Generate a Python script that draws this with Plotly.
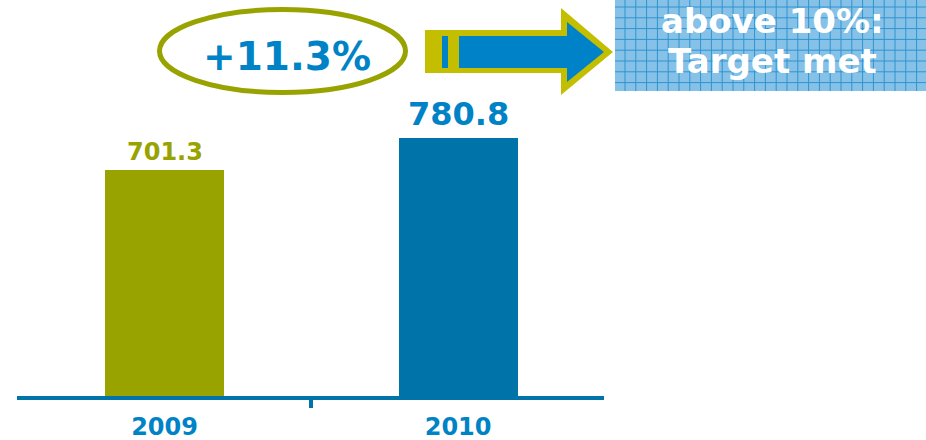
import plotly.graph_objects as go

years = ["2009", "2010"]
values = [701.3, 780.8]
value_labels = ["701.3", "780.8"]
bar_colors = ["#99A300", "#0073A8"]
label_colors = ["#99A300", "#0083C6"]
label_sizes = [24, 32]
growth_label = "+11.3%"
target_lines = ["above 10%:", "Target met"]

W, H = 926, 440
L, R, T, B = 17, 604, 0, 396  # plot area in pixels

def px(x):
    return (x - L) / (R - L)

def py(y):
    return (B - y) / (B - T)

xpos = [0, 1]

fig = go.Figure()
fig.add_trace(go.Bar(
    x=xpos, y=values, width=0.405,
    marker=dict(color=bar_colors, line=dict(width=0)),
    hoverinfo="skip", showlegend=False,
))

annotations = []
yshifts = [18, 24]
for xv, v, t, c, s, ys in zip(xpos, values, value_labels, label_colors, label_sizes, yshifts):
    annotations.append(dict(
        x=xv, y=v, xref="x", yref="y", text=t, showarrow=False,
        yanchor="middle", xanchor="center", yshift=ys,
        font=dict(family="DejaVu Sans", size=s, color=c, weight="bold"),
    ))

shapes = []
# ellipse around growth
shapes.append(dict(type="circle", xref="paper", yref="paper",
                   x0=px(159.5), x1=px(405.5), y0=py(92.5), y1=py(9.5),
                   line=dict(color="#99A300", width=5), layer="above"))
annotations.append(dict(x=px(287), y=py(56), xref="paper", yref="paper",
                        text=growth_label, showarrow=False, xanchor="center", yanchor="middle",
                        font=dict(family="DejaVu Sans", size=39, color="#0083C6", weight="bold")))

def path(points):
    return "M " + " L ".join(f"{px(a):.5f},{py(b):.5f}" for a, b in points) + " Z"

outer = [(425, 30), (561, 30), (561, 8), (613, 52), (561, 95), (561, 73), (425, 73)]
inner = [(459, 36), (567, 36), (567, 22), (604, 52), (567, 82), (567, 68), (459, 68)]
shapes.append(dict(type="path", xref="paper", yref="paper", path=path(outer),
                   fillcolor="#C3BE00", line=dict(width=0), layer="above"))
shapes.append(dict(type="path", xref="paper", yref="paper", path=path(inner),
                   fillcolor="#0082C8", line=dict(width=0), layer="above"))
shapes.append(dict(type="rect", xref="paper", yref="paper",
                   x0=px(442), x1=px(448), y0=py(68), y1=py(36),
                   fillcolor="#0082C8", line=dict(width=0), layer="above"))

# target box with grid texture
bx0, bx1, by0, by1 = 615, 926, 0, 91
shapes.append(dict(type="rect", xref="paper", yref="paper",
                   x0=px(bx0), x1=px(bx1), y0=py(by1), y1=py(by0),
                   fillcolor="#86C2E8", line=dict(width=0), layer="above"))
g = 10.8
xg = 625.0
while xg < bx1:
    shapes.append(dict(type="line", xref="paper", yref="paper",
                       x0=px(xg), x1=px(xg), y0=py(by1), y1=py(by0),
                       line=dict(color="#2F93CF", width=1), layer="above"))
    xg += g
yg = 7.0
while yg < by1:
    shapes.append(dict(type="line", xref="paper", yref="paper",
                       x0=px(bx0), x1=px(bx1), y0=py(yg), y1=py(yg),
                       line=dict(color="#2F93CF", width=1), layer="above"))
    yg += g

for t, yc in zip(target_lines, [21, 61]):
    annotations.append(dict(x=px(772), y=py(yc), xref="paper", yref="paper",
                            text=t, showarrow=False, xanchor="center", yanchor="middle",
                            borderpad=0,
                            font=dict(family="DejaVu Sans", size=34, color="white", weight="bold")))

fig.update_layout(
    width=W, height=H,
    margin=dict(l=L, r=W - R, t=T, b=H - B, pad=0),
    paper_bgcolor="white", plot_bgcolor="white",
    xaxis=dict(range=[-0.5026, 1.497], tickvals=xpos, ticktext=years,
               showgrid=False, zeroline=False, showline=True,
               linecolor="#0073A8", linewidth=4, ticks="",
               tickfont=dict(family="DejaVu Sans", size=24, color="#0083C6", weight="bold"),
               ticklabelstandoff=6,
               minor=dict(tickmode="array", tickvals=[0.5], ticks="outside",
                          ticklen=8, tickwidth=4, tickcolor="#0073A8"),
               fixedrange=True),
    yaxis=dict(range=[140, 1124], visible=False, showgrid=False, zeroline=False, fixedrange=True),
    shapes=shapes, annotations=annotations,
    bargap=0,
)

fig.write_html("out.html", config={"displayModeBar": False},
               post_script="document.body.style.margin='0';document.body.style.overflow='hidden';")
